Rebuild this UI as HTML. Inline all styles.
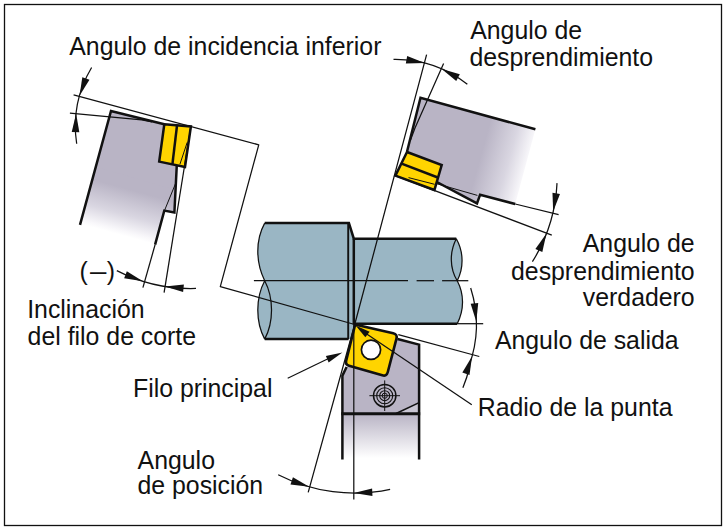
<!DOCTYPE html>
<html lang="es"><head><meta charset="utf-8"><title>Angulos de la herramienta</title>
<style>html,body{margin:0;padding:0;background:#fff}svg{display:block}</style></head>
<body>
<svg width="726" height="529" viewBox="0 0 726 529">
<defs>
<linearGradient id="g1" gradientUnits="userSpaceOnUse" x1="92.4" y1="179.5" x2="80.3" y2="224"><stop offset="0" stop-color="#b9b4c5"/><stop offset="0.55" stop-color="#d9d6e1"/><stop offset="0.9" stop-color="#f8f7fa"/><stop offset="1" stop-color="#fff"/></linearGradient>
<linearGradient id="g2" gradientUnits="userSpaceOnUse" x1="482.3" y1="150.3" x2="531.5" y2="164"><stop offset="0" stop-color="#b9b4c5"/><stop offset="0.55" stop-color="#d9d6e1"/><stop offset="0.9" stop-color="#f8f7fa"/><stop offset="1" stop-color="#fff"/></linearGradient>
<linearGradient id="g3" gradientUnits="userSpaceOnUse" x1="0" y1="414" x2="0" y2="458"><stop offset="0" stop-color="#b9b4c5"/><stop offset="1" stop-color="#fff"/></linearGradient>
</defs>
<rect x="0" y="0" width="726" height="529" fill="#fff"/>
<rect x="4.5" y="4.5" width="717" height="521" fill="none" stroke="#111" stroke-width="1.3"/>
<path d="M264.7 223.1 L348.9 223.1 L353.8 238.7 L456.3 238.7 C463.8 252 463.8 268 457.2 280.7 C464.3 294 464.3 310 457.2 323.7 L353.8 323.7 L353.8 339.1 L264.7 339.1 C255.5 322 255.5 298 264.7 280.7 C255.5 262 255.5 240 264.7 223.1Z" fill="#9ab6c4" stroke="none"/>
<polyline points="264.7,223.1 348.9,223.1 353.8,238.7 456.3,238.7" fill="none" stroke="#111" stroke-width="2.5" stroke-linejoin="miter" stroke-linecap="butt"/>
<line x1="264.7" y1="339.1" x2="348.6" y2="339.1" stroke="#111" stroke-width="2.5" />
<line x1="353.8" y1="323.7" x2="457.2" y2="323.7" stroke="#111" stroke-width="2.5" />
<line x1="353.8" y1="238.7" x2="353.8" y2="324.5" stroke="#111" stroke-width="2.5" />
<line x1="348.2" y1="223.1" x2="348.2" y2="339.1" stroke="#111" stroke-width="1.9" />
<path d="M264.7 223.1 C255.5 240 255.5 262 264.7 280.7 C255.5 298 255.5 322 264.7 339.1 M264.7 280.7 C273.8 298 273.8 322 264.7 339.1" fill="none" stroke="#111" stroke-width="1.25"/>
<path d="M456.3 238.7 C463.8 252 463.8 268 457.2 280.7 C464.3 294 464.3 310 457.2 323.7 M456.3 238.7 C449.5 252 449.5 268 457.2 280.7" fill="none" stroke="#111" stroke-width="1.25"/>
<line x1="253.9" y1="280.7" x2="408" y2="280.7" stroke="#111" stroke-width="1.25" />
<line x1="416.6" y1="280.7" x2="434" y2="280.7" stroke="#111" stroke-width="1.25" />
<line x1="442.1" y1="280.7" x2="468.3" y2="280.7" stroke="#111" stroke-width="1.25" />
<line x1="457.2" y1="323.7" x2="483.2" y2="323.7" stroke="#111" stroke-width="1.25" />
<polygon points="346.6,367 342.4,375.6 342.4,413.7 419.1,413.7 419.1,344.6 397.5,339" fill="#b9b4c5"/>
<polygon points="396.1,413.5 419.1,402.6 419.1,413.7" fill="#c9c6d3"/>
<rect x="342.4" y="413.7" width="76.70000000000005" height="46" fill="url(#g3)"/>
<polyline points="346.6,367 342.4,375.6 342.4,459.5" fill="none" stroke="#111" stroke-width="2.5" stroke-linejoin="miter" stroke-linecap="butt"/>
<polyline points="397.5,339 419.1,344.6 419.1,459.5" fill="none" stroke="#111" stroke-width="2.5" stroke-linejoin="miter" stroke-linecap="butt"/>
<line x1="341.3" y1="413.7" x2="420.2" y2="413.7" stroke="#111" stroke-width="2.9" />
<line x1="396.1" y1="413.5" x2="419.1" y2="402.6" stroke="#111" stroke-width="1.6" />
<circle cx="384.7" cy="395.7" r="11.2" fill="none" stroke="#111" stroke-width="1.5"/>
<circle cx="384.7" cy="395.7" r="8" fill="none" stroke="#111" stroke-width="1.1"/>
<circle cx="384.7" cy="395.7" r="5" fill="none" stroke="#111" stroke-width="1.1"/>
<circle cx="384.7" cy="395.7" r="2.6" fill="none" stroke="#111" stroke-width="1"/>
<line x1="369.4" y1="395.7" x2="400" y2="395.7" stroke="#111" stroke-width="1" />
<line x1="384.7" y1="380.4" x2="384.7" y2="411" stroke="#111" stroke-width="1" />
<path d="M355.01 325.28Q355.2 324.5 355.98 324.68L393.22 333.29Q397.6 334.3 396.47 338.66L387.73 372.24Q386.6 376.6 382.28 375.35L349.04 365.71Q345.2 364.6 346.17 360.72Z" fill="#ffd400" stroke="#111" stroke-width="2.6" stroke-linejoin="round"/>
<circle cx="371" cy="349.8" r="9.6" fill="#fff" stroke="#111" stroke-width="1.7"/>
<line x1="353.8" y1="324" x2="353.8" y2="499.5" stroke="#111" stroke-width="1.25" />
<polyline points="426.6,54.6 354.7,324.5 308.2,492.4" fill="none" stroke="#111" stroke-width="1.25" stroke-linejoin="miter" stroke-linecap="butt"/>
<line x1="398.3" y1="334.7" x2="479.3" y2="356.5" stroke="#111" stroke-width="1.25" />
<line x1="471.8" y1="404.8" x2="366" y2="333.5" stroke="#111" stroke-width="1.25" />
<polygon points="355.6,325.4 369.61,331.8 365.33,337.34" fill="#111"/>
<line x1="287.7" y1="378.2" x2="328" y2="358.7" stroke="#111" stroke-width="1.25" />
<polygon points="342.4,352.6 328.66,362.39 325.87,355.97" fill="#111"/>
<path d="M470.68 287.95A121.6 121.6 0 0 1 468.74 366.72" fill="none" stroke="#111" stroke-width="1.25"/>
<polygon points="476.27,321.79 470.67,303.75 478.23,303.01" fill="#111"/>
<polygon points="472.09,356.22 469.5,374.92 462.34,372.39" fill="#111"/>
<path d="M469.5 367 Q467 378 462.9 387.8" fill="none" stroke="#111" stroke-width="1.25"/>
<path d="M278.19 474.74A168.6 168.6 0 0 0 390.12 489.34" fill="none" stroke="#111" stroke-width="1.25"/>
<polygon points="309.21,486.85 290.48,484.49 292.93,477.29" fill="#111"/>
<polygon points="353.8,493.1 372.09,488.39 372.46,495.98" fill="#111"/>
<polygon points="111,111 164.3,124.3 159.2,161.6 176.8,165.3 174.4,212.6 164.3,210.6 155.1,244.7 80,224.8" fill="url(#g1)"/>
<polygon points="111,111 164.3,124.3 159.2,161.6 176.8,165.3 175.5,190 96.3,167" fill="#b9b4c5"/>
<polyline points="80,224.8 111,111 164.3,124.3" fill="none" stroke="#111" stroke-width="2.5" stroke-linejoin="miter" stroke-linecap="butt"/>
<polyline points="176.8,165 174.4,212.6 164.3,210.6 155.1,244.7" fill="none" stroke="#111" stroke-width="2.5" stroke-linejoin="miter" stroke-linecap="butt"/>
<line x1="176.2" y1="182" x2="164.6" y2="210.3" stroke="#111" stroke-width="1" />
<polygon points="164.3,124.3 190.9,126.5 185,166.9 159.2,161.6" fill="#ffd400" stroke="#111" stroke-width="2.5" stroke-linejoin="miter"/>
<line x1="177" y1="125.6" x2="172.4" y2="164.3" stroke="#111" stroke-width="2.5" />
<line x1="187.2" y1="142.4" x2="179.9" y2="164.3" stroke="#111" stroke-width="1" />
<polyline points="73.6,94.9 258.75,144.8 220.3,286.6 354.7,324.5" fill="none" stroke="#111" stroke-width="1.25" stroke-linejoin="round" stroke-linecap="butt"/>
<path d="M69.9 113.1 L141.7 119.9 L152 122" fill="none" stroke="#111" stroke-width="1.25"/>
<line x1="155.1" y1="244.7" x2="142.9" y2="287.7" stroke="#111" stroke-width="1.25" />
<line x1="190.9" y1="126.5" x2="164.1" y2="292.6" stroke="#111" stroke-width="1.25" />
<path d="M91.62 67.47A115.5 115.5 0 0 0 76.69 143.75" fill="none" stroke="#111" stroke-width="1.25"/>
<polygon points="79.55,95.82 82.3,77.14 89.44,79.74" fill="#111"/>
<polygon points="76.12,113.59 79.33,132.2 71.74,131.96" fill="#111"/>
<path d="M116.81 270.57A162 162 0 0 0 196 288.42" fill="none" stroke="#111" stroke-width="1.25"/>
<polygon points="142.84,281.21 124.18,278.28 126.84,271.16" fill="#111"/>
<polygon points="165.09,286.43 183.89,284.55 183.11,292.11" fill="#111"/>
<polygon points="420.5,97.8 535.4,129.3 515.2,204 480.1,194.7 477,203.4 435.9,181.3 441.7,165 407,151.8" fill="url(#g2)"/>
<polyline points="535.4,129.3 420.5,97.8 407,151.8" fill="none" stroke="#111" stroke-width="2.5" stroke-linejoin="miter" stroke-linecap="butt"/>
<polyline points="435.9,181.5 477,203.4 480.1,194.7 515.2,204" fill="none" stroke="#111" stroke-width="2.5" stroke-linejoin="miter" stroke-linecap="butt"/>
<line x1="515.2" y1="204" x2="558.6" y2="214.6" stroke="#111" stroke-width="1.25" />
<line x1="437" y1="183.8" x2="477.4" y2="195.4" stroke="#111" stroke-width="1" />
<polygon points="407,152 441.7,165 434.4,190 395.4,175.6" fill="#ffd400" stroke="#111" stroke-width="2.5" stroke-linejoin="miter"/>
<line x1="401.6" y1="163.6" x2="437.8" y2="177.5" stroke="#111" stroke-width="2.5" />
<line x1="408.5" y1="177.6" x2="434.6" y2="184.3" stroke="#111" stroke-width="1" />
<path d="M443.6 63.5 L415 128 L410.5 140" fill="none" stroke="#111" stroke-width="1.25"/>
<line x1="395.4" y1="175.6" x2="551.8" y2="235.2" stroke="#111" stroke-width="1.25" />
<path d="M393.5 59.32A116.3 116.3 0 0 1 467.34 84.22" fill="none" stroke="#111" stroke-width="1.25"/>
<polygon points="424.71,63.05 405.83,63.57 407.16,56.09" fill="#111"/>
<polygon points="441.7,68.91 459.81,74.25 456.24,80.96" fill="#111"/>
<path d="M557.02 183.13A161.8 161.8 0 0 1 532.39 261.7" fill="none" stroke="#111" stroke-width="1.25"/>
<polygon points="553.15,211.55 552.48,192.68 559.98,193.94" fill="#111"/>
<polygon points="546.45,233.59 542.31,252.01 535.38,248.89" fill="#111"/>
<g font-family="'Liberation Sans', Arial, sans-serif" font-size="24.85" fill="#111">
<text x="69.3" y="54.8" text-anchor="start" >Angulo de incidencia inferior</text>
<text x="470.2" y="38.7" text-anchor="start" >Angulo de</text>
<text x="469.4" y="65.5" text-anchor="start" >desprendimiento</text>
<text x="694.7" y="252.4" text-anchor="end" >Angulo de</text>
<text x="694.7" y="279.5" text-anchor="end" >desprendimiento</text>
<text x="694.7" y="306.3" text-anchor="end" >verdadero</text>
<text x="494.9" y="348.6" text-anchor="start" >Angulo de salida</text>
<text x="477.7" y="415.7" text-anchor="start" >Radio de la punta</text>
<text x="133" y="397.1" text-anchor="start" >Filo principal</text>
<text x="27.2" y="317.8" text-anchor="start" >Inclinación</text>
<text x="27.6" y="344.5" text-anchor="start" >del filo de corte</text>
<text x="137.6" y="468.6" text-anchor="start" >Angulo</text>
<text x="137.5" y="494" text-anchor="start" >de posición</text>
<text x="79.4" y="280" text-anchor="start" >(</text>
<text x="89.9" y="280" text-anchor="start" textLength="16.4" lengthAdjust="spacingAndGlyphs">–</text>
<text x="106.8" y="280" text-anchor="start" >)</text>
</g>
</svg>
</body></html>
